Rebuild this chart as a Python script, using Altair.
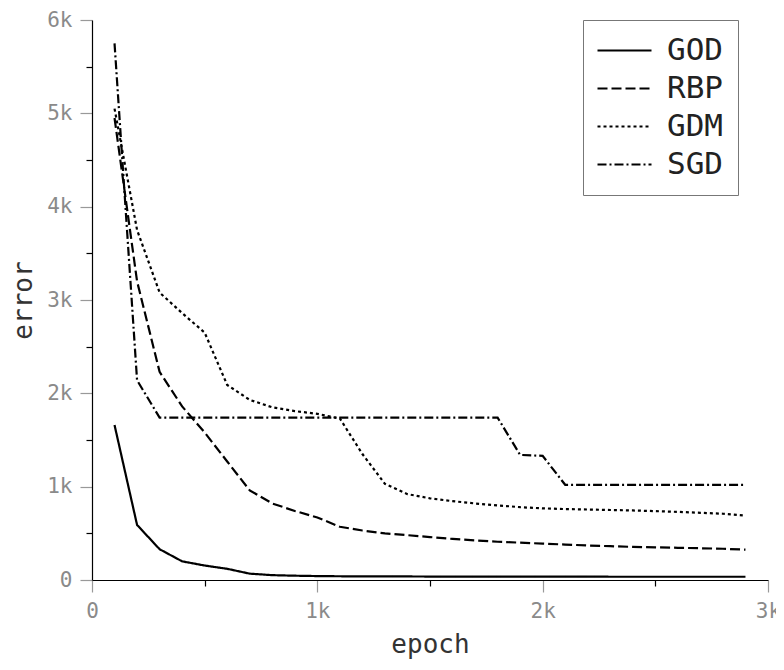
import altair as alt
import pandas as pd

epochs = [100, 200, 300, 400, 500, 600, 700, 800, 900, 1000, 1100, 1200, 1300, 1400, 1500,
          1600, 1700, 1800, 1900, 2000, 2100, 2200, 2300, 2400, 2500, 2600, 2700, 2800, 2900]

god = [1660, 590, 330, 200, 155, 120, 68, 52, 46, 42, 40, 39, 38, 38, 37,
       37, 37, 36, 36, 36, 36, 36, 35, 35, 35, 35, 35, 35, 35]
rbp = [4950, 3200, 2230, 1860, 1580, 1270, 960, 820, 740, 670, 570, 530, 500, 480, 460,
       440, 425, 410, 400, 390, 380, 370, 362, 355, 350, 345, 340, 335, 325]
gdm = [5050, 3750, 3080, 2860, 2650, 2090, 1930, 1850, 1810, 1780, 1730, 1350, 1030, 920, 875,
       845, 820, 800, 780, 768, 760, 755, 750, 745, 738, 730, 720, 710, 690]
sgd = [5750, 2140, 1740, 1740, 1740, 1740, 1740, 1740, 1740, 1740, 1740, 1740, 1740, 1740, 1740,
       1740, 1740, 1740, 1340, 1330, 1020, 1020, 1020, 1020, 1020, 1020, 1020, 1020, 1020]

series_names = ["GOD", "RBP", "GDM", "SGD"]
series_values = [god, rbp, gdm, sgd]

rows = []
for name, vals in zip(series_names, series_values):
    for e, v in zip(epochs, vals):
        rows.append({"epoch": e, "error": v, "method": name})
df = pd.DataFrame(rows)

FONT = "DejaVu Sans Mono"
major_test = "datum.value % 1000 === 0"

def axis(title, title_pad):
    return alt.Axis(
        title=title,
        values=list(range(0, 6001, 500)),
        labelExpr="datum.value % 1000 === 0 ? (datum.value === 0 ? '0' : (datum.value/1000) + 'k') : ''",
        tickColor={"condition": {"test": major_test, "value": "#999999"}, "value": "black"},
        tickSize={"condition": {"test": major_test, "value": 12}, "value": 6},
        tickWidth=1.2,
        domainColor="black",
        domainWidth=1.2,
        labelColor="#8a8a8a",
        labelFont=FONT,
        labelFontSize=21,
        labelPadding=8,
        titleFont=FONT,
        titleFontSize=26,
        titleFontWeight="normal",
        titleColor="#333333",
        titlePadding=title_pad,
        grid=False,
        labelOverlap=False,
        labelFlush=False,
    )

chart = alt.Chart(df).mark_line(color="black", strokeWidth=2.2).encode(
    x=alt.X("epoch:Q", scale=alt.Scale(domain=[0, 3000], nice=False), axis=axis("epoch", 10)),
    y=alt.Y("error:Q", scale=alt.Scale(domain=[0, 6000], nice=False), axis=axis("error", 10)),
    strokeDash=alt.StrokeDash(
        "method:N",
        scale=alt.Scale(domain=series_names,
                        range=[[1, 0], [10, 4], [3, 3], [9, 3, 2, 3]]),
        legend=alt.Legend(
            title=None,
            orient="none",
            legendX=491,
            legendY=0,
            symbolType="M-2,0H2",
            symbolSize=729,
            symbolStrokeWidth=2.2,
            symbolStrokeColor="black",
            symbolOffset=11,
            labelFont=FONT,
            labelFontSize=31,
            labelColor="#222222",
            labelOffset=27,
            strokeColor="#777777",
            padding=15,
            rowPadding=6,
        ),
    ),
    detail="method:N",
).properties(
    width=676,
    height=560,
    padding={"left": 84, "top": 12, "right": 8, "bottom": 82},
    autosize=alt.AutoSizeParams(type="none"),
).configure_view(stroke=None)

chart.save("out.html", embed_options={"renderer": "svg", "actions": False})
